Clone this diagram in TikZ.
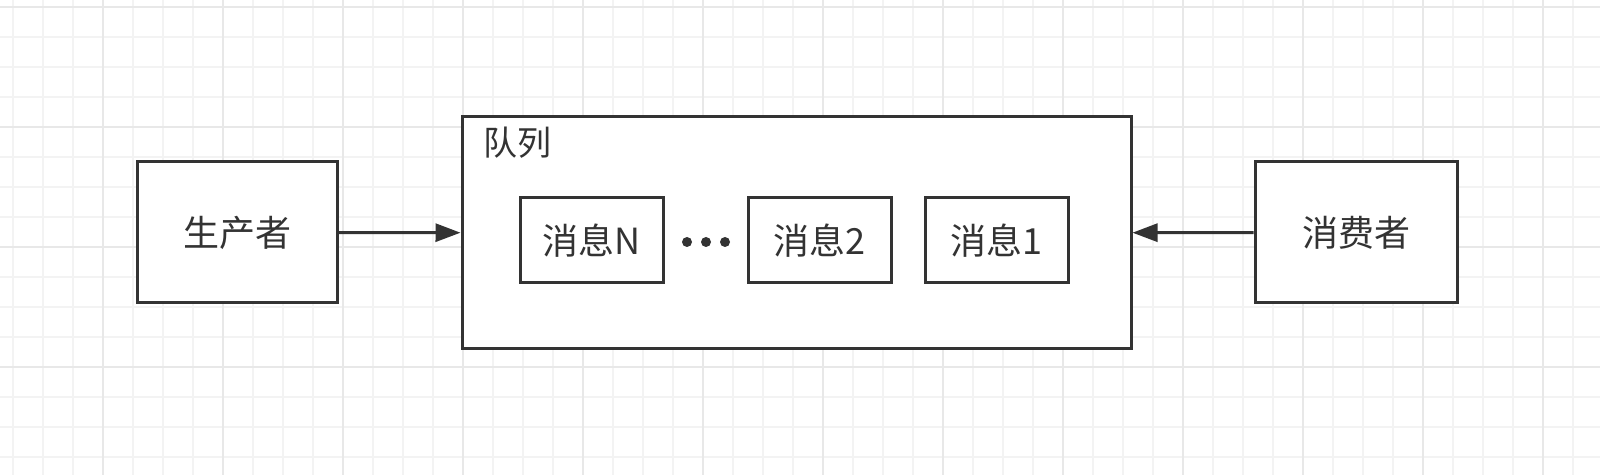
\documentclass[tikz,border=0pt]{standalone}
\usepackage{fontspec}
\setmainfont{Noto Sans CJK SC}
\usepackage{xcolor}
\usetikzlibrary{positioning}
\usetikzlibrary{arrows.meta}
\definecolor{linegray}{HTML}{333333}
\definecolor{gridminor}{HTML}{F3F3F3}
\definecolor{gridmajor}{HTML}{E8E8E8}

\tikzset{
  box/.style={draw=linegray, line width=1.5pt, fill=white, text=linegray, inner sep=0pt,
    font=\fontsize{18}{20}\selectfont},
  msgbox/.style={box, minimum width=71.5pt, minimum height=42.5pt},
  conn/.style={draw=linegray, line width=1.5pt, -{Triangle[length=12.5pt,width=9pt]}}
}

\begin{document}
\begin{tikzpicture}[x=0.5pt, y=-0.5pt]
            \useasboundingbox (0,0) rectangle (1600,475);
            \fill[white] (0,0) rectangle (1600,475);
            % background grid
            \foreach \x in {13,43,...,1600} \draw[gridminor, line width=1pt] (\x,0) -- (\x,475);
            \foreach \y in {7,37,...,475} \draw[gridminor, line width=1pt] (0,\y) -- (1600,\y);
            \foreach \x in {103,223,...,1600} \draw[gridmajor, line width=1pt] (\x,0) -- (\x,475);
            \foreach \y in {7,127,...,475} \draw[gridmajor, line width=1pt] (0,\y) -- (1600,\y);

            \node[box, minimum width=100pt, minimum height=70.5pt] (producer) at (237,232.5) {生产者};
            \node[box, minimum width=334.5pt, minimum height=116pt] (queue) at (796.5,233) {};
            \node[box, minimum width=101pt, minimum height=70.5pt] (consumer) at (1356,232.5) {消费者};
            \node[text=linegray, font=\fontsize{17}{19}\selectfont, inner sep=0pt] (qname) at (517,143) {队列};

            \node[msgbox] (msg_n) at (591.5,240.5) {消息N};
            \node[msgbox] (msg_2) at (819.5,240.5) {消息2};
            \node[msgbox] (msg_1) at (996.5,240.5) {消息1};
            \foreach \x in {687,706,725} \fill[linegray] (\x,242) circle (2.5pt);

            \draw[conn] (producer) -- (queue);
            \draw[conn] (consumer) -- (queue);
        \end{tikzpicture}
\end{document}
